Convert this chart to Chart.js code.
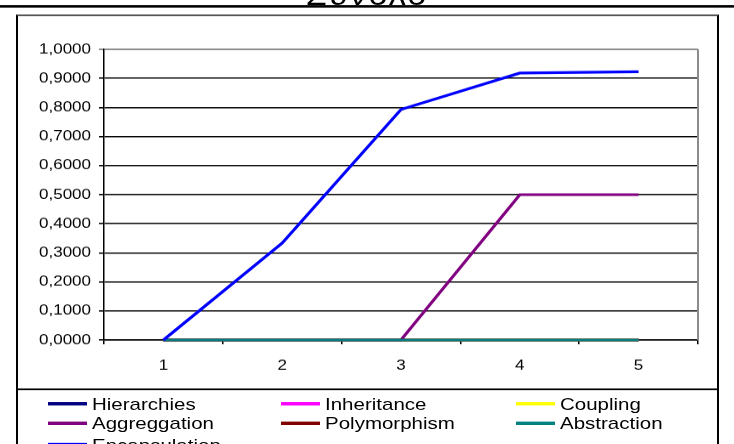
<!DOCTYPE html>
<html>
<head>
<meta charset="utf-8">
<script src="https://cdn.jsdelivr.net/npm/chart.js@4.4.1/dist/chart.umd.min.js"></script>
<style>
  html, body { margin: 0; padding: 0; background: #fff; width: 734px; height: 444px; overflow: hidden; }
  #page {
    position: absolute; left: 0; top: 0; width: 734px; height: 522px;
    transform: scaleY(0.85); transform-origin: 0 0;
    font-family: "Liberation Sans", Arial, sans-serif;
  }
  #title {
    position: absolute; left: 0; width: 734px; top: -23px;
    text-align: center; font-size: 34px; line-height: 34px; color: #000; letter-spacing: 2px;
  }
  #topRule { position: absolute; left: 0; top: 6px; width: 734px; height: 3px; background: #000; }
  #frame {
    position: absolute; left: 16px; top: 17px; width: 699px; height: 600px;
    border-left: 2px solid #000; border-right: 2px solid #000; border-top: 2px solid #555;
  }
  #divider { position: absolute; left: 17px; top: 457px; width: 700px; height: 2px; background: #000; }
  canvas { position: absolute; left: 0; top: 0; }
  .lg { position: absolute; height: 24px; }
  .lg .sw { position: absolute; left: 0; top: 10px; width: 39px; height: 4px; }
  .lg .tx { position: absolute; left: 44px; top: 0; font-size: 20.5px; line-height: 24px; white-space: nowrap; color: #000; }
</style>
</head>
<body>
<div id="page">
  <div id="title">Σύνολο</div>
  <div id="topRule"></div>
  <div id="frame"></div>
  <div id="divider"></div>
  <canvas id="c" width="734" height="522"></canvas>
  <div id="legend"></div>
</div>
<script>
// Measurement steps
const categories = ['1', '2', '3', '4', '5'];

// Series values per step
const hierarchies   = [0, 0, 0, 0, 0];
const inheritance   = [0, 0, 0, 0, 0];
const coupling      = [0, 0, 0, 0, 0];
const aggregation   = [0, 0, 0, 0.5, 0.5];
const polymorphism  = [0, 0, 0, 0, 0];
const abstraction   = [0, 0, 0, 0, 0];
const encapsulation = [0, 0.3333, 0.7931, 0.9183, 0.9231];

const seriesNames  = ['Hierarchies', 'Inheritance', 'Coupling', 'Aggreggation', 'Polymorphism', 'Abstraction', 'Encapsulation'];
const seriesValues = [hierarchies, inheritance, coupling, aggregation, polymorphism, abstraction, encapsulation];
const seriesColors = ['#000080', '#FF00FF', '#FFFF00', '#800080', '#800000', '#008080', '#0000FF'];

const n = seriesNames.length;
const datasets = seriesNames.map((name, i) => ({
  label: name,
  data: seriesValues[i],
  borderColor: seriesColors[i],
  backgroundColor: seriesColors[i],
  borderWidth: 3.2,
  pointRadius: 0,
  tension: 0,
  fill: false,
  clip: false,
  // later series are painted over earlier ones
  order: n - 1 - i
}));

// gray right edge of the plot area
const plotEdge = {
  id: 'plotEdge',
  afterDraw(chart) {
    const { ctx, chartArea: a } = chart;
    ctx.save();
    ctx.strokeStyle = '#8c8c8c';
    ctx.lineWidth = 2;
    ctx.beginPath();
    ctx.moveTo(a.right, a.top);
    ctx.lineTo(a.right, a.bottom);
    ctx.stroke();
    ctx.restore();
  }
};

const tickFont = { family: '"Liberation Sans", Arial, sans-serif', size: 17 };

new Chart(document.getElementById('c'), {
  type: 'line',
  data: { labels: categories, datasets },
  options: {
    responsive: false,
    animation: false,
    devicePixelRatio: 1,
    layout: { padding: { left: 0, right: 36, top: 58, bottom: 82 } },
    plugins: { legend: { display: false }, tooltip: { enabled: false }, title: { display: false } },
    scales: {
      x: {
        offset: true,
        grid: { drawOnChartArea: false, drawTicks: true, tickLength: 5, color: '#000', lineWidth: 1.5, offset: true },
        border: { color: '#000', width: 1.5 },
        ticks: { color: '#000', font: tickFont, padding: 15, maxRotation: 0 },
        afterFit(s) { s.height = 40; }
      },
      y: {
        min: 0, max: 1,
        grid: {
          color: c => (c.tick && Math.abs(c.tick.value - 1) < 1e-9) ? '#8c8c8c' : '#000',
          lineWidth: c => (c.tick && Math.abs(c.tick.value - 1) < 1e-9) ? 2 : 1.6,
          tickLength: 5, drawTicks: true
        },
        border: { color: '#000', width: 1.5 },
        ticks: {
          stepSize: 0.1, color: '#000', font: tickFont, padding: 8,
          callback: v => (Math.round(v * 10) / 10).toFixed(4).replace('.', ',')
        },
        afterFit(s) { s.width = 104; }
      }
    }
  },
  plugins: [plotEdge]
});

// legend in three columns
const colX = [48, 281, 516];
const rowY = [463, 486, 511];
const legend = document.getElementById('legend');
seriesNames.forEach((name, i) => {
  const item = document.createElement('div');
  item.className = 'lg';
  item.style.left = colX[i % 3] + 'px';
  item.style.top = rowY[Math.floor(i / 3)] + 'px';
  const sw = document.createElement('div');
  sw.className = 'sw';
  sw.style.background = seriesColors[i];
  const tx = document.createElement('div');
  tx.className = 'tx';
  tx.textContent = name;
  item.appendChild(sw);
  item.appendChild(tx);
  legend.appendChild(item);
});
</script>
</body>
</html>
